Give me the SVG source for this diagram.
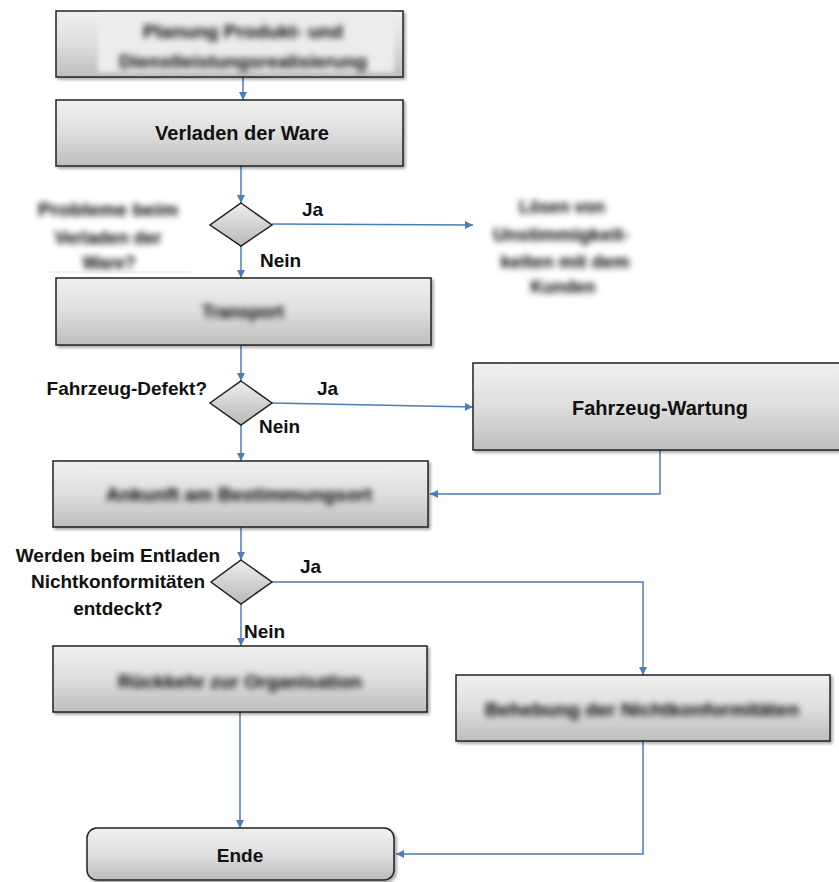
<svg xmlns="http://www.w3.org/2000/svg" width="839" height="882" viewBox="0 0 839 882">
<defs>
<linearGradient id="boxg" x1="0" y1="0" x2="0" y2="1">
<stop offset="0" stop-color="#f0f0f0"/>
<stop offset="0.5" stop-color="#dedede"/>
<stop offset="1" stop-color="#bdbdbd"/>
</linearGradient>
<linearGradient id="diag" x1="0" y1="0" x2="0" y2="1">
<stop offset="0" stop-color="#eeeeee"/>
<stop offset="1" stop-color="#b8b8b8"/>
</linearGradient>
<filter id="shadow" x="-5%" y="-10%" width="115%" height="130%">
<feDropShadow dx="2" dy="2" stdDeviation="1.5" flood-color="#000" flood-opacity="0.35"/>
</filter>
<filter id="blur" x="-10%" y="-60%" width="120%" height="220%">
<feGaussianBlur stdDeviation="3.2"/>
</filter>
<filter id="soft" x="-10%" y="-20%" width="120%" height="140%">
<feGaussianBlur stdDeviation="2"/>
</filter>
<marker id="arr" viewBox="0 0 10 10" refX="10" refY="5" markerWidth="9" markerHeight="8" markerUnits="userSpaceOnUse" orient="auto">
<path d="M0,0 L10,5 L0,10 z" fill="#4a7ebb"/>
</marker>
</defs>
<style>
.box{fill:url(#boxg);stroke:#222;stroke-width:1.5;filter:url(#shadow)}
.dia{fill:url(#diag);stroke:#222;stroke-width:1.5}
.lbl{font-family:"Liberation Sans",Arial,sans-serif;font-weight:bold;font-size:19px;fill:#111}
.big{font-size:20px}
.bl{font-family:"Liberation Sans",Arial,sans-serif;font-weight:bold;font-size:18px;fill:#000;filter:url(#blur)}
.con{fill:none;stroke:#4a7ebb;stroke-width:1.5}
.arr{marker-end:url(#arr)}
</style>

<g id="connectors">
<path class="con arr" d="M243,77 L243,100"/>
<path class="con arr" d="M241,166 L241,203"/>
<path class="con arr" d="M272,224 L473,225"/>
<path class="con arr" d="M241,246 L241,278"/>
<path class="con arr" d="M241,345 L241,381"/>
<path class="con arr" d="M272,403 L473,407"/>
<path class="con arr" d="M241,425 L241,461"/>
<path class="con arr" d="M660,450 L660,494 L430,494"/>
<path class="con arr" d="M241,527 L241,560"/>
<path class="con arr" d="M272,582 L643,582 L643,675"/>
<path class="con arr" d="M241,604 L241,646"/>
<path class="con arr" d="M240,712 L240,828"/>
<path class="con arr" d="M643,741 L643,854 L396,854"/>
</g>

<g id="n1">
<rect class="box" x="56" y="11" width="347" height="66"/>
<rect x="98" y="14" width="296" height="58" fill="#ececec" filter="url(#soft)"/>
<text class="bl" x="243" y="38" text-anchor="middle" textLength="200" lengthAdjust="spacingAndGlyphs">Planung Produkt- und</text>
<text class="bl" x="243" y="68" text-anchor="middle" textLength="248" lengthAdjust="spacingAndGlyphs">Dienstleistungsrealisierung</text>
</g>

<g id="n2">
<rect class="box" x="56" y="100" width="347" height="66"/>
<text class="lbl big" x="242" y="140" text-anchor="middle">Verladen der Ware</text>
</g>

<g id="d1">
<path class="dia" d="M241,203 L272,225 L241,246 L210,225 Z"/>
<text class="bl" x="108" y="216" text-anchor="middle" textLength="140" lengthAdjust="spacingAndGlyphs">Probleme beim</text>
<text class="bl" x="108" y="244" text-anchor="middle" textLength="107" lengthAdjust="spacingAndGlyphs">Verladen der</text>
<text class="bl" x="109" y="269" text-anchor="middle" textLength="53" lengthAdjust="spacingAndGlyphs">Ware?</text>
<line x1="50" y1="272" x2="190" y2="272" stroke="#e2e2e2" stroke-width="1"/>
<text class="lbl" x="302" y="216">Ja</text>
<text class="lbl" x="260" y="267">Nein</text>
</g>

<g id="n_loesen">
<text class="bl" x="562" y="213" text-anchor="middle" textLength="86" lengthAdjust="spacingAndGlyphs">Lösen von</text>
<text class="bl" x="561" y="241" text-anchor="middle" textLength="136" lengthAdjust="spacingAndGlyphs">Unstimmigkeit-</text>
<text class="bl" x="565" y="268" text-anchor="middle" textLength="129" lengthAdjust="spacingAndGlyphs">keiten mit dem</text>
<text class="bl" x="563" y="293" text-anchor="middle" textLength="65" lengthAdjust="spacingAndGlyphs">Kunden</text>
</g>

<g id="n3">
<rect class="box" x="56" y="278" width="375" height="67"/>
<text class="bl" x="243" y="318" text-anchor="middle" textLength="82" lengthAdjust="spacingAndGlyphs">Transport</text>
</g>

<g id="d2">
<path class="dia" d="M241,381 L272,403 L241,425 L210,403 Z"/>
<text class="lbl" x="207" y="395" text-anchor="end">Fahrzeug-Defekt?</text>
<text class="lbl" x="317" y="395">Ja</text>
<text class="lbl" x="259" y="433">Nein</text>
</g>

<g id="n_wartung">
<rect class="box" x="473" y="363" width="372" height="87"/>
<text class="lbl big" x="660" y="415" text-anchor="middle">Fahrzeug-Wartung</text>
</g>

<g id="n4">
<rect class="box" x="53" y="461" width="375" height="66"/>
<line x1="90" y1="471" x2="390" y2="471" stroke="#f4f4f4" stroke-width="1"/>
<text class="bl" x="239" y="501" text-anchor="middle" textLength="266" lengthAdjust="spacingAndGlyphs">Ankunft am Bestimmungsort</text>
</g>

<g id="d3">
<path class="dia" d="M241,560 L272,582 L241,604 L211,582 Z"/>
<text class="lbl" x="118" y="562" text-anchor="middle">Werden beim Entladen</text>
<text class="lbl" x="118" y="588" text-anchor="middle">Nichtkonformitäten</text>
<text class="lbl" x="118" y="615" text-anchor="middle">entdeckt?</text>
<text class="lbl" x="300" y="573">Ja</text>
<text class="lbl" x="244" y="638">Nein</text>
</g>

<g id="n5">
<rect class="box" x="53" y="646" width="374" height="66"/>
<text class="bl" x="240" y="688" text-anchor="middle" textLength="244" lengthAdjust="spacingAndGlyphs">Rückkehr zur Organisation</text>
</g>

<g id="n6">
<rect class="box" x="456" y="675" width="374" height="66"/>
<text class="bl" x="642" y="716" text-anchor="middle" textLength="314" lengthAdjust="spacingAndGlyphs">Behebung der Nichtkonformitäten</text>
</g>

<g id="n_ende">
<rect class="box" x="87" y="828" width="307" height="52" rx="10" ry="10"/>
<text class="lbl" x="240" y="862" text-anchor="middle">Ende</text>
</g>
</svg>
